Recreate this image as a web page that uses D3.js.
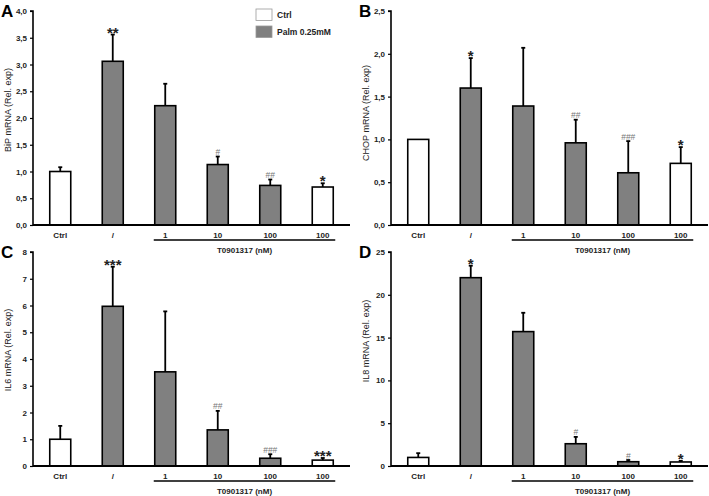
<!DOCTYPE html>
<html>
<head>
<meta charset="utf-8">
<script src="https://cdn.jsdelivr.net/npm/d3@7"></script>
<style>
html,body{margin:0;padding:0;background:#fff;}
svg{display:block;font-family:"Liberation Sans",Arial,sans-serif;}
</style>
</head>
<body>
<svg id="chart" width="709" height="496"></svg>
<script>
// ---- data ----
const categories = ["Ctrl", "/", "1", "10", "100", "100"];
const groups = ["Ctrl", "Palm", "Palm", "Palm", "Palm", "Ctrl"];
const legendLabels = ["Ctrl", "Palm 0.25mM"];
const treatmentLabel = "T0901317 (nM)";

const bipValues = [1.00, 3.06, 2.23, 1.13, 0.74, 0.71];
const bipErrors = [0.08, 0.50, 0.41, 0.15, 0.11, 0.07];
const bipMarks  = ["", "**", "", "#", "##", "*"];
const bipTicks  = [0, 0.5, 1.0, 1.5, 2.0, 2.5, 3.0, 3.5, 4.0];

const chopValues = [1.00, 1.60, 1.39, 0.96, 0.61, 0.72];
const chopErrors = [0.00, 0.35, 0.68, 0.27, 0.37, 0.19];
const chopMarks  = ["", "*", "", "##", "###", "*"];
const chopTicks  = [0, 0.5, 1.0, 1.5, 2.0, 2.5];

const il6Values = [1.00, 5.97, 3.52, 1.35, 0.29, 0.22];
const il6Errors = [0.50, 1.48, 2.26, 0.71, 0.15, 0.08];
const il6Marks  = ["", "***", "", "##", "###", "***"];
const il6Ticks  = [0, 1, 2, 3, 4, 5, 6, 7, 8];

const il8Values = [1.00, 22.0, 15.7, 2.6, 0.50, 0.47];
const il8Errors = [0.50, 1.40, 2.20, 0.80, 0.20, 0.13];
const il8Marks  = ["", "*", "", "#", "#", "*"];
const il8Ticks  = [0, 5, 10, 15, 20, 25];

// ---- drawing ----
const svg = d3.select("#chart");
const colors = {Ctrl: "#ffffff", Palm: "#808080"};
const commaFmt = d => d3.format(".1f")(d).replace(".", ",");
const intFmt = d => d3.format("d")(d);

function panel(cfg) {
  const g = svg.append("g");
  const x = d3.scaleBand().domain(d3.range(categories.length))
    .range([cfg.ox + 1, cfg.ox + 316]).paddingInner(0.6).paddingOuter(0.3);
  const y = d3.scaleLinear().domain([0, cfg.max]).range([cfg.bottom, cfg.top]);

  // bars
  g.selectAll("rect.bar").data(cfg.values).join("rect")
    .attr("x", (d, i) => x(i)).attr("width", x.bandwidth())
    .attr("y", d => y(d)).attr("height", d => cfg.bottom - y(d))
    .attr("fill", (d, i) => colors[groups[i]])
    .attr("stroke", "#000").attr("stroke-width", 1.6);

  // error bars
  cfg.values.forEach((v, i) => {
    const e = cfg.errors[i];
    if (e <= 0) return;
    const cx = x(i) + x.bandwidth() / 2;
    g.append("line").attr("x1", cx).attr("x2", cx)
      .attr("y1", y(v)).attr("y2", y(v + e))
      .attr("stroke", "#000").attr("stroke-width", 1.8);
    g.append("line").attr("x1", cx - 2).attr("x2", cx + 2)
      .attr("y1", y(v + e)).attr("y2", y(v + e))
      .attr("stroke", "#000").attr("stroke-width", 1.8);
  });

  // significance marks
  cfg.marks.forEach((m, i) => {
    if (!m) return;
    const cx = x(i) + x.bandwidth() / 2;
    const top = y(cfg.values[i] + cfg.errors[i]);
    if (m[0] === "*") {
      g.append("text").attr("x", cx).attr("y", top + 3)
        .attr("text-anchor", "middle").attr("font-size", 15).attr("font-weight", "bold")
        .attr("fill", "#222").text(m);
    } else {
      g.append("text").attr("x", cx).attr("y", top - 1.5)
        .attr("text-anchor", "middle").attr("font-size", 8.5)
        .attr("fill", "#777").text(m);
    }
  });

  // y axis
  const ya = g.append("g").attr("transform", `translate(${cfg.ox},0)`)
    .call(d3.axisLeft(y).tickValues(cfg.ticks).tickFormat(cfg.fmt).tickSize(3).tickPadding(3));
  ya.select(".domain").attr("stroke-width", 1.6).attr("d", `M-3,${cfg.top}H0V${cfg.bottom}`);
  ya.selectAll(".tick line").attr("stroke-width", 1.2);
  ya.selectAll("text").attr("font-size", 8).attr("font-weight", "bold")
    .attr("font-family", "Liberation Sans, Arial, sans-serif").attr("fill", "#222");

  // x axis
  const xa = g.append("g").attr("transform", `translate(0,${cfg.bottom})`)
    .call(d3.axisBottom(x).tickFormat(i => categories[i]).tickSize(0).tickPadding(7));
  xa.select(".domain").attr("stroke-width", 1.8).attr("d", `M${cfg.ox},0H${cfg.ox + 317}`);
  xa.selectAll("text").attr("font-size", 8).attr("font-weight", "bold")
    .attr("font-family", "Liberation Sans, Arial, sans-serif").attr("fill", "#222");

  // treatment bracket
  const bx1 = x(2) - 1, bx2 = x(5) + x.bandwidth() + 2;
  g.append("line").attr("x1", bx1).attr("x2", bx2)
    .attr("y1", cfg.bottom + 15).attr("y2", cfg.bottom + 15)
    .attr("stroke", "#000").attr("stroke-width", 1.4);
  g.append("text").attr("x", (bx1 + bx2) / 2).attr("y", cfg.bottom + 27.5)
    .attr("text-anchor", "middle").attr("font-size", 8).attr("font-weight", "bold")
    .attr("fill", "#222").text(treatmentLabel);

  // y title
  g.append("text")
    .attr("transform", `translate(${cfg.ox - 22},${cfg.labelY}) rotate(-90)`)
    .attr("text-anchor", "middle").attr("font-size", 9).attr("fill", "#222")
    .text(cfg.title);

  // panel letter
  g.append("text").attr("x", cfg.ox - 32).attr("y", cfg.top + 6)
    .attr("font-size", 17).attr("font-weight", "bold").attr("fill", "#000")
    .text(cfg.letter);
  return g;
}

panel({letter: "A", title: "BiP mRNA (Rel. exp)", ox: 33, top: 11, bottom: 225, max: 4,
  ticks: bipTicks, fmt: commaFmt, values: bipValues, errors: bipErrors, marks: bipMarks, labelY: 110});
panel({letter: "B", title: "CHOP mRNA (Rel. exp)", ox: 391, top: 11, bottom: 225, max: 2.5,
  ticks: chopTicks, fmt: commaFmt, values: chopValues, errors: chopErrors, marks: chopMarks, labelY: 113});
panel({letter: "C", title: "IL6 mRNA (Rel. exp)", ox: 33, top: 252, bottom: 466, max: 8,
  ticks: il6Ticks, fmt: intFmt, values: il6Values, errors: il6Errors, marks: il6Marks, labelY: 350});
panel({letter: "D", title: "IL8 mRNA (Rel. exp)", ox: 391, top: 252, bottom: 466, max: 25,
  ticks: il8Ticks, fmt: intFmt, values: il8Values, errors: il8Errors, marks: il8Marks, labelY: 341});

// legend
const leg = svg.append("g");
legendLabels.forEach((l, i) => {
  const yy = i === 0 ? 9 : 26;
  leg.append("rect").attr("x", 256).attr("y", yy).attr("width", 16).attr("height", 11.5)
    .attr("fill", colors[i === 0 ? "Ctrl" : "Palm"]).attr("stroke", "#999").attr("stroke-width", 0.8);
  leg.append("text").attr("x", 277).attr("y", yy + 9).attr("font-size", 8.5)
    .attr("font-weight", "bold").attr("fill", "#222").text(l);
});
</script>
</body>
</html>
